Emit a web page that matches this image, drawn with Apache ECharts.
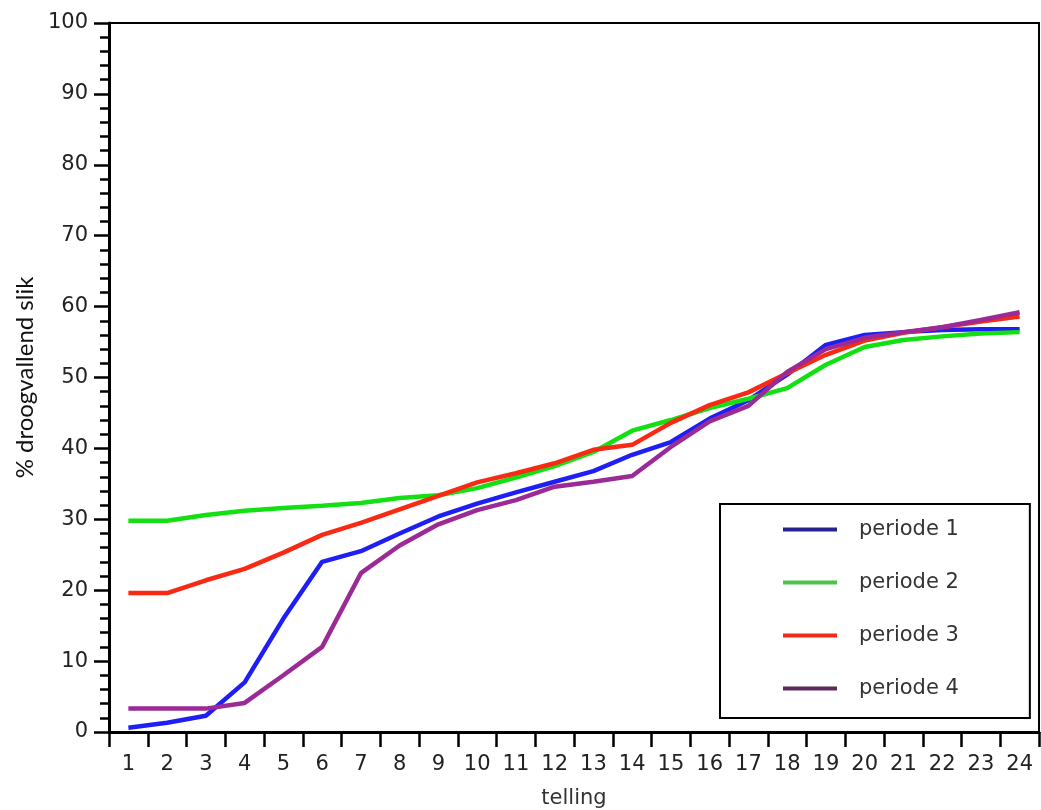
<!DOCTYPE html>
<html>
<head>
<meta charset="utf-8">
<script src="https://cdn.jsdelivr.net/npm/echarts@6/dist/echarts.min.js"></script>
<style>
html,body{margin:0;padding:0;background:#fff;}
#chart{width:1041px;height:810px;}
</style>
</head>
<body>
<div id="chart"></div>
<script>
const categories = ['1','2','3','4','5','6','7','8','9','10','11','12','13','14','15','16','17','18','19','20','21','22','23','24'];
const periode1 = [0.6, 1.3, 2.3, 7.0, 16.0, 24.0, 25.5, 28.0, 30.4, 32.2, 33.8, 35.3, 36.8, 39.1, 40.9, 44.2, 46.8, 50.4, 54.6, 56.0, 56.4, 56.7, 56.8, 56.8];
const periode2 = [29.8, 29.8, 30.6, 31.2, 31.6, 31.9, 32.3, 33.0, 33.4, 34.4, 35.9, 37.5, 39.5, 42.5, 44.0, 45.7, 47.0, 48.5, 51.8, 54.3, 55.3, 55.8, 56.2, 56.4];
const periode3 = [19.6, 19.6, 21.4, 23.0, 25.3, 27.8, 29.5, 31.4, 33.3, 35.2, 36.5, 37.9, 39.8, 40.5, 43.6, 46.1, 47.9, 50.6, 53.2, 55.2, 56.3, 57.1, 57.9, 58.6];
const periode4 = [3.3, 3.3, 3.3, 4.1, 8.0, 12.0, 22.4, 26.3, 29.3, 31.3, 32.7, 34.6, 35.3, 36.1, 40.2, 43.8, 46.0, 50.8, 54.0, 55.6, 56.4, 57.1, 58.1, 59.2];
const seriesNames = ['periode 1','periode 2','periode 3','periode 4'];
const lineColors = ['#1f1ff5','#12e012','#f82a14','#9b2a96'];
const legendColors = ['#24248c','#4cc44c','#f02a20','#5a2a5c'];
const yTicks = {min:0, max:100, interval:10};

const chart = echarts.init(document.getElementById('chart'), null, {renderer:'canvas'});
const allData = [periode1, periode2, periode3, periode4];
const tickFont = {fontFamily:'DejaVu Sans', fontSize:21, color:'#222'};

chart.setOption({
  animation:false,
  backgroundColor:'#fff',
  grid:{left:109, right:2, top:23, bottom:78, outerBoundsMode:'none', containLabel:false, show:true, borderColor:'#000', borderWidth:2, backgroundColor:'transparent'},
  legend:{
    orient:'vertical',
    left:720, top:504,
    padding:[15,71,19,63],
    itemGap:32,
    itemWidth:54, itemHeight:4,
    icon:'rect',
    borderColor:'#000', borderWidth:2,
    backgroundColor:'#fff',
    textStyle:{fontFamily:'DejaVu Sans', fontSize:21, color:'#333', padding:[0,0,0,17]},
    data: seriesNames.map((n,i)=>({name:n, itemStyle:{color:legendColors[i]}}))
  },
  xAxis:{
    type:'category',
    data:categories,
    boundaryGap:true,
    name:'telling',
    nameLocation:'middle',
    nameGap:56,
    nameTextStyle:{fontFamily:'DejaVu Sans', fontSize:21, color:'#333'},
    axisLine:{lineStyle:{color:'#000', width:3}},
    axisTick:{show:true, length:15, lineStyle:{color:'#000', width:2.5}},
    axisLabel:Object.assign({interval:0, margin:22}, tickFont),
    splitLine:{show:false}
  },
  yAxis:{
    type:'value',
    min:yTicks.min, max:yTicks.max, interval:yTicks.interval,
    name:'% droogvallend slik',
    nameLocation:'middle',
    nameGap:72,
    nameTextStyle:{fontFamily:'Lato', fontSize:24, color:'#111'},
    axisLine:{show:true, lineStyle:{color:'#000', width:3}},
    axisTick:{show:true, length:15, lineStyle:{color:'#000', width:2.5}},
    minorTick:{show:true, splitNumber:5, length:9, lineStyle:{color:'#000', width:2.5}},
    axisLabel:Object.assign({margin:21}, tickFont),
    splitLine:{show:false},
    minorSplitLine:{show:false}
  },
  series: seriesNames.map((n,i)=>({
    name:n,
    type:'line',
    data:allData[i],
    symbol:'none',
    smooth:false,
    lineStyle:{color:lineColors[i], width:4.5},
    itemStyle:{color:lineColors[i]}
  }))
});
</script>
</body>
</html>
